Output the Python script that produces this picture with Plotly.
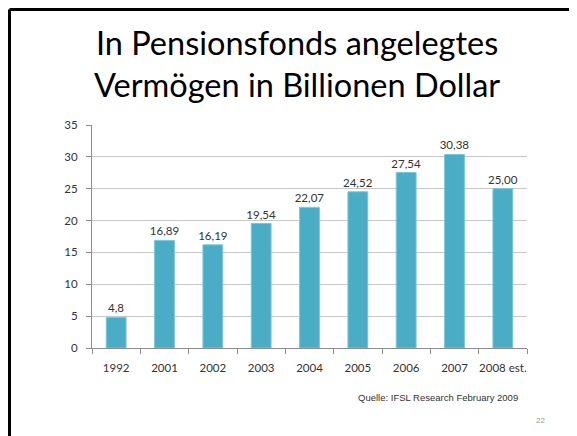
import plotly.graph_objects as go

categories = ["1992", "2001", "2002", "2003", "2004", "2005", "2006", "2007", "2008 est."]
values = [4.8, 16.89, 16.19, 19.54, 22.07, 24.52, 27.54, 30.38, 25.00]
value_labels = ["4,8", "16,89", "16,19", "19,54", "22,07", "24,52", "27,54", "30,38", "25,00"]
y_ticks = [0, 5, 10, 15, 20, 25, 30, 35]

OFF = 8  # page body margin
W, H = 577 - OFF, 436 - OFF
L, T = 92 - OFF, 125 - OFF
R = W - (527 - OFF)
B = H - (348 - OFF)
pw, ph = W - L - R, H - T - B

def px(x):
    return (x - OFF - L) / pw

def py(y):
    return (H - B - (y - OFF)) / ph

fig = go.Figure()
fig.add_trace(go.Bar(
    x=categories, y=values, text=value_labels, textposition="outside",
    textfont=dict(family="Lato", size=11.5, color="#333333"),
    constraintext="none",
    marker=dict(color="#4BACC6", line=dict(color="#7CC6DA", width=1)),
    width=0.41, cliponaxis=False,
))

fig.update_layout(
    width=W, height=H,
    margin=dict(l=L, r=R, t=T, b=B, pad=0),
    paper_bgcolor="white", plot_bgcolor="white",
    showlegend=False,
    font=dict(family="Lato", color="#333333"),
    xaxis=dict(
        type="category", tickson="boundaries", ticks="outside", ticklen=5,
        tickcolor="#8C8C8C", showline=True, linecolor="#8C8C8C", linewidth=1,
        showgrid=False, tickangle=0, automargin=False, ticklabelstandoff=9,
        tickfont=dict(family="Lato", size=11.5, color="#333333"),
    ),
    yaxis=dict(
        range=[0, 35], tickvals=y_ticks, ticks="outside", ticklen=5,
        tickcolor="#8C8C8C", showline=True, linecolor="#8C8C8C", linewidth=1,
        showgrid=True, gridcolor="#C8C8C8", gridwidth=1, zeroline=False, automargin=False,
        tickfont=dict(family="Lato", size=11.5, color="#333333"), ticklabelstandoff=6,
    ),
    shapes=[
        dict(type="line", xref="paper", yref="paper", x0=px(9.5), x1=px(600), y0=py(9.5), y1=py(9.5),
             line=dict(color="black", width=3)),
        dict(type="line", xref="paper", yref="paper", x0=px(9.5), x1=px(9.5), y0=py(9.5), y1=py(440),
             line=dict(color="black", width=3)),
    ],
    annotations=[
        dict(text="In Pensionsfonds angelegtes<br>Vermögen in Billionen Dollar", xref="paper", yref="paper",
             x=px(297), y=py(63), xanchor="center", yanchor="middle", showarrow=False,
             font=dict(family="Lato", size=32.5, color="black")),
        dict(text="Quelle: IFSL Research February 2009", xref="paper", yref="paper",
             x=px(520), y=py(397), xanchor="right", yanchor="middle", showarrow=False,
             font=dict(family="Liberation Sans", size=9.5, color="#333333")),
        dict(text="22", xref="paper", yref="paper",
             x=px(547), y=py(420), xanchor="right", yanchor="middle", showarrow=False,
             font=dict(family="Liberation Sans", size=8, color="#999999")),
    ],
)

fig.write_html("out.html")
